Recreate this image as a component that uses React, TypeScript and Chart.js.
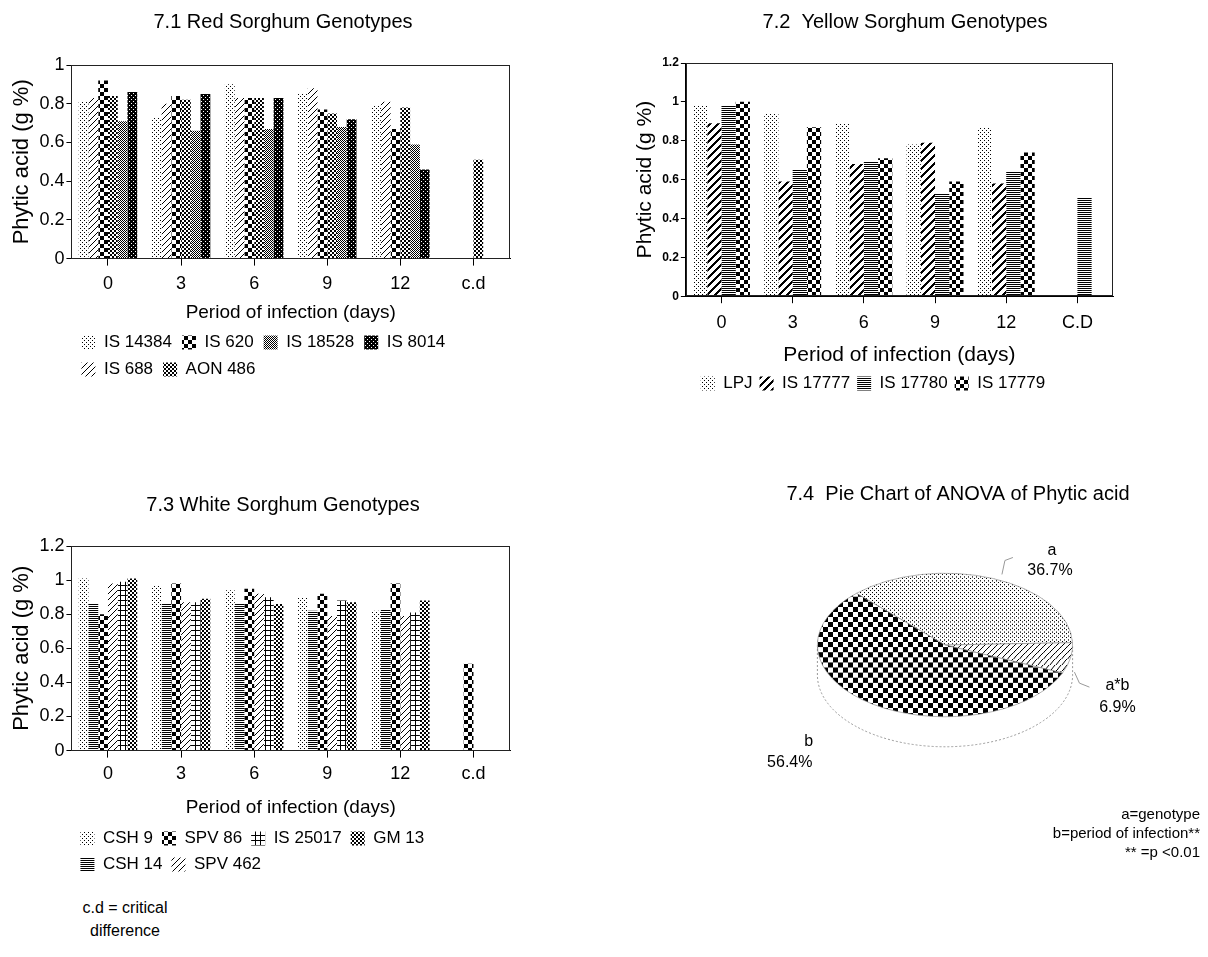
import React, { useEffect, useRef } from "react";
import { Chart, registerables } from "chart.js";

Chart.register(...registerables);

const FONT = "'Liberation Sans', Arial, Helvetica, sans-serif";

// ---------- data ----------
const periodsLower = ["0", "3", "6", "9", "12", "c.d"];
const periodsUpper = ["0", "3", "6", "9", "12", "C.D"];

// 7.1 Red sorghum genotypes (bar order)
const red_IS14384 = [0.81, 0.73, 0.9, 0.85, 0.79, null];
const red_IS688 = [0.83, 0.8, 0.83, 0.88, 0.81, null];
const red_IS620 = [0.92, 0.84, 0.83, 0.77, 0.67, null];
const red_AON486 = [0.84, 0.82, 0.83, 0.75, 0.78, 0.51];
const red_IS18528 = [0.71, 0.66, 0.67, 0.68, 0.59, null];
const red_IS8014 = [0.86, 0.85, 0.83, 0.72, 0.46, null];
const redLegendOrder = ["IS 14384", "IS 620", "IS 18528", "IS 8014", "IS 688", "AON 486"];

// 7.2 Yellow sorghum genotypes
const yel_LPJ = [0.98, 0.94, 0.89, 0.78, 0.87, null];
const yel_IS17777 = [0.89, 0.59, 0.68, 0.79, 0.58, null];
const yel_IS17780 = [0.98, 0.65, 0.69, 0.53, 0.64, 0.51];
const yel_IS17779 = [1.0, 0.87, 0.71, 0.59, 0.74, null];

// 7.3 White sorghum genotypes
const wht_CSH9 = [1.01, 0.97, 0.94, 0.9, 0.82, null];
const wht_CSH14 = [0.86, 0.86, 0.86, 0.82, 0.83, null];
const wht_SPV86 = [0.8, 0.98, 0.95, 0.92, 0.98, 0.51];
const wht_SPV462 = [0.98, 0.87, 0.92, 0.79, 0.79, null];
const wht_IS25017 = [0.99, 0.87, 0.9, 0.88, 0.81, null];
const wht_GM13 = [1.01, 0.89, 0.86, 0.87, 0.88, null];
const whtLegendOrder = ["CSH 9", "SPV 86", "IS 25017", "GM 13", "CSH 14", "SPV 462"];

// 7.4 ANOVA pie
const pieLabels = ["a", "a*b", "b"];
const pieValues = [36.7, 6.9, 56.4];
const footnotes = ["a=genotype", "b=period of infection**", "** =p <0.01"];

// ---------- styling helpers ----------
const PIE_SQUASH = 0.5625;
const PIE_DEPTH = 30;

function makePattern(ctx: CanvasRenderingContext2D, kind: string): CanvasPattern {
  const c = document.createElement("canvas");
  const sizes: Record<string, [number, number]> = {
    dots: [4, 4],
    hatch: [6, 6],
    thickHatch: [8, 8],
    checker: [8, 8],
    smallChecker: [4, 4],
    grey: [2, 2],
    dark: [4, 4],
    hlines: [1, 2],
    grid: [5, 5],
    pieDots: [4, 7],
    pieChecker: [10, 18],
    pieHatch: [6, 11],
  };
  const [w, h] = sizes[kind];
  c.width = w;
  c.height = h;
  const g = c.getContext("2d")!;
  g.fillStyle = "#fff";
  g.fillRect(0, 0, w, h);
  g.fillStyle = "#000";
  const px = (x: number, y: number, ww = 1, hh = 1) => g.fillRect(x, y, ww, hh);
  switch (kind) {
    case "dots":
      px(0, 0);
      px(2, 2);
      break;
    case "hatch":
      for (let i = 0; i < 6; i++) px(i, 5 - i);
      break;
    case "thickHatch":
      for (let x = 0; x < 8; x++) for (let y = 0; y < 8; y++) if ((x + y) % 8 < 3) px(x, y);
      break;
    case "checker":
      px(0, 0, 4, 4);
      px(4, 4, 4, 4);
      break;
    case "smallChecker":
      px(0, 0, 2, 2);
      px(2, 2, 2, 2);
      break;
    case "grey":
      px(0, 0);
      px(1, 1);
      break;
    case "dark":
      px(0, 0, 4, 4);
      g.fillStyle = "#fff";
      px(1, 1);
      px(3, 3);
      break;
    case "hlines":
      px(0, 0);
      break;
    case "grid":
      px(0, 0, 5, 1);
      px(0, 0, 1, 5);
      break;
    case "pieDots":
      px(0, 0, 1, 2);
      px(2, 3, 1, 2);
      break;
    case "pieChecker":
      px(0, 0, 5, 9);
      px(5, 9, 5, 9);
      break;
    case "pieHatch":
      for (let y = 0; y < 11; y++) px(Math.floor(((10 - y) * 6) / 11), y, 1, 1);
      break;
  }
  return ctx.createPattern(c, "repeat")!;
}

const boxPlugin = {
  id: "plotBox",
  afterDatasetsDraw(chart: any) {
    const { ctx, chartArea: a } = chart;
    ctx.save();
    ctx.strokeStyle = "#222";
    ctx.lineWidth = 1;
    ctx.strokeRect(Math.round(a.left) + 0.5, Math.round(a.top) + 0.5, Math.round(a.width) - 1, Math.round(a.height) - 1);
    ctx.restore();
  },
};

// heading drawn at a chosen point of the canvas (space reserved with layout padding)
const headingPlugin = {
  id: "heading",
  afterDraw(chart: any, _args: any, opts: any) {
    if (!opts || !opts.text) return;
    const { ctx } = chart;
    ctx.save();
    ctx.font = `${opts.size}px ${FONT}`;
    ctx.fillStyle = "#000";
    ctx.textAlign = "center";
    ctx.textBaseline = "middle";
    ctx.fillText(opts.text, opts.x, opts.y);
    ctx.restore();
  },
};

type Series = { label: string; data: (number | null)[]; pattern: string };

type BarOpts = {
  labels: string[];
  series: Series[];
  heading: { text: string; x: number; y: number; size: number };
  yMax: number;
  yTickFont: any;
  legendOrder?: string[];
  legendFullSize: boolean;
  legendAlign: "start" | "center";
  legendPadding: number;
  legendFontSize: number;
  layoutPad: { left: number; right: number; top: number; bottom: number };
  yTitleSize: number;
  xTickSize: number;
  xTickPad: number;
  xTitleSize: number;
  xTitlePad: { top: number; bottom: number };
};

function barConfig(ctx: CanvasRenderingContext2D, o: BarOpts): any {
  return {
    type: "bar",
    data: {
      labels: o.labels,
      datasets: o.series.map((s) => ({
        label: s.label,
        data: s.data,
        backgroundColor: makePattern(ctx, s.pattern),
        borderWidth: 0,
        categoryPercentage: 0.8,
        barPercentage: 1.0,
      })),
    },
    options: {
      animation: false,
      responsive: true,
      maintainAspectRatio: false,
      layout: { padding: o.layoutPad },
      scales: {
        x: {
          grid: { display: true, drawOnChartArea: false, offset: false, tickLength: 7, color: "#000" },
          border: { display: true, color: "#000" },
          ticks: { color: "#000", font: { family: FONT, size: o.xTickSize }, padding: o.xTickPad },
          title: {
            display: true,
            text: "Period of infection (days)",
            color: "#000",
            font: { family: FONT, size: o.xTitleSize },
            padding: o.xTitlePad,
          },
        },
        y: {
          min: 0,
          max: o.yMax,
          grid: { display: true, drawOnChartArea: false, tickLength: 5, color: "#000" },
          border: { display: true, color: "#000" },
          ticks: {
            stepSize: 0.2,
            color: "#000",
            font: o.yTickFont,
            padding: 2,
            callback: (v: any) => String(Math.round(Number(v) * 10) / 10),
          },
          title: {
            display: true,
            text: "Phytic acid (g %)",
            color: "#000",
            font: { family: FONT, size: o.yTitleSize },
            padding: { top: 0, bottom: 2 },
          },
        },
      },
      plugins: {
        tooltip: { enabled: false },
        title: { display: false },
        heading: o.heading,
        legend: {
          position: "bottom",
          fullSize: o.legendFullSize,
          align: o.legendAlign,
          labels: {
            color: "#000",
            font: { family: FONT, size: o.legendFontSize },
            boxWidth: 14,
            boxHeight: 14,
            padding: o.legendPadding,
            sort: o.legendOrder
              ? (a: any, b: any) => o.legendOrder!.indexOf(a.text) - o.legendOrder!.indexOf(b.text)
              : undefined,
          },
        },
      },
    },
    plugins: [boxPlugin, headingPlugin],
  };
}

// pie label offsets from the slice's outer edge point (px)
const pieLabelOffsets: [number, number][][] = [
  [[59, -28], [57, -8]],
  [[47, 27], [47, 49]],
  [[-64, 37], [-83, 58]],
];
const pieLeaders: [number, number][][] = [
  [[9, -4], [12, -18], [20, -21]],
  [[4, 14], [9, 25], [19, 29]],
  [],
];

const pieShapePlugin = {
  id: "pieShape",
  beforeDatasetsDraw(chart: any) {
    const { ctx } = chart;
    const arc = chart.getDatasetMeta(0).data[0];
    const { x, y, outerRadius: r } = arc;
    const ry = r * PIE_SQUASH;
    ctx.save();
    ctx.fillStyle = "#fff";
    ctx.strokeStyle = "#999";
    ctx.lineWidth = 1;
    ctx.setLineDash([2, 2]);
    ctx.beginPath();
    ctx.moveTo(x - r, y);
    ctx.lineTo(x - r, y + PIE_DEPTH);
    ctx.ellipse(x, y + PIE_DEPTH, r, ry, 0, Math.PI, 0, true);
    ctx.lineTo(x + r, y);
    ctx.closePath();
    ctx.fill();
    ctx.stroke();
    ctx.restore();
    ctx.save();
    ctx.translate(x, y);
    ctx.scale(1, PIE_SQUASH);
    ctx.translate(-x, -y);
  },
  afterDatasetsDraw(chart: any) {
    chart.ctx.restore();
  },
  afterDraw(chart: any) {
    const { ctx } = chart;
    const meta = chart.getDatasetMeta(0);
    ctx.save();
    ctx.font = `16px ${FONT}`;
    ctx.fillStyle = "#000";
    ctx.textAlign = "center";
    ctx.textBaseline = "middle";
    meta.data.forEach((el: any, i: number) => {
      const { x, y, startAngle, endAngle, outerRadius: r } = el;
      const m = (startAngle + endAngle) / 2;
      const ex = x + r * Math.cos(m);
      const ey = y + r * PIE_SQUASH * Math.sin(m);
      const lines = [pieLabels[i], `${pieValues[i].toFixed(1)}%`];
      lines.forEach((t, j) => {
        const [dx, dy] = pieLabelOffsets[i][j];
        ctx.fillText(t, ex + dx, ey + dy);
      });
      const pts = pieLeaders[i];
      if (pts.length) {
        ctx.save();
        ctx.strokeStyle = "#999";
        ctx.lineWidth = 1;
        ctx.beginPath();
        pts.forEach(([dx, dy], k) => (k ? ctx.lineTo(ex + dx, ey + dy) : ctx.moveTo(ex + dx, ey + dy)));
        ctx.stroke();
        ctx.restore();
      }
    });
    ctx.font = `15px ${FONT}`;
    ctx.textAlign = "right";
    footnotes.forEach((t, j) => ctx.fillText(t, chart.width - 8, 355 + j * 19));
    ctx.restore();
  },
};

function pieConfig(ctx: CanvasRenderingContext2D): any {
  return {
    type: "pie",
    data: {
      labels: pieLabels,
      datasets: [
        {
          data: pieValues,
          backgroundColor: [makePattern(ctx, "pieDots"), makePattern(ctx, "pieHatch"), makePattern(ctx, "pieChecker")],
          borderColor: "#888",
          borderWidth: 0.8,
        },
      ],
    },
    options: {
      animation: false,
      responsive: true,
      maintainAspectRatio: false,
      rotation: 316,
      layout: { padding: { left: 109, right: 135, top: 57, bottom: 184 } },
      plugins: {
        legend: { display: false },
        tooltip: { enabled: false },
        title: { display: false },
        heading: { text: "7.4  Pie Chart of ANOVA of Phytic acid", x: 250, y: 34, size: 20 },
      },
    },
    plugins: [pieShapePlugin, headingPlugin],
  };
}

function ChartBox(props: { left: number; top: number; width: number; height: number; build: (ctx: CanvasRenderingContext2D) => any }) {
  const ref = useRef<HTMLCanvasElement>(null);
  useEffect(() => {
    const canvas = ref.current!;
    const ctx = canvas.getContext("2d")!;
    const chart = new Chart(ctx, props.build(ctx));
    return () => chart.destroy();
  }, []);
  return (
    <div style={{ position: "absolute", left: props.left, top: props.top, width: props.width, height: props.height }}>
      <canvas ref={ref} />
    </div>
  );
}

export default function App() {
  const bigTick = { family: FONT, size: 18 };
  return (
    <div style={{ position: "absolute", left: 0, top: 0, width: 1208, height: 957, background: "#fff", fontFamily: FONT }}>
      <ChartBox
        left={0}
        top={0}
        width={560}
        height={394}
        build={(ctx) =>
          barConfig(ctx, {
            labels: periodsLower,
            series: [
              { label: "IS 14384", data: red_IS14384, pattern: "dots" },
              { label: "IS 688", data: red_IS688, pattern: "hatch" },
              { label: "IS 620", data: red_IS620, pattern: "checker" },
              { label: "AON 486", data: red_AON486, pattern: "smallChecker" },
              { label: "IS 18528", data: red_IS18528, pattern: "grey" },
              { label: "IS 8014", data: red_IS8014, pattern: "dark" },
            ],
            heading: { text: "7.1 Red Sorghum Genotypes", x: 283, y: 22, size: 20 },
            yMax: 1,
            yTickFont: bigTick,
            legendOrder: redLegendOrder,
            legendFullSize: false,
            legendAlign: "start",
            legendPadding: 10,
            legendFontSize: 17,
            layoutPad: { left: 9, right: 50, top: 65, bottom: 6 },
            yTitleSize: 22,
            xTickSize: 18,
            xTickPad: 8,
            xTitleSize: 19,
            xTitlePad: { top: -2, bottom: 0 },
          })
        }
      />
      <ChartBox
        left={600}
        top={0}
        width={608}
        height={404}
        build={(ctx) =>
          barConfig(ctx, {
            labels: periodsUpper,
            series: [
              { label: "LPJ", data: yel_LPJ, pattern: "dots" },
              { label: "IS 17777", data: yel_IS17777, pattern: "thickHatch" },
              { label: "IS 17780", data: yel_IS17780, pattern: "hlines" },
              { label: "IS 17779", data: yel_IS17779, pattern: "checker" },
            ],
            heading: { text: "7.2  Yellow Sorghum Genotypes", x: 305, y: 22, size: 20 },
            yMax: 1.2,
            yTickFont: { family: FONT, size: 12, weight: "bold" },
            legendFullSize: true,
            legendAlign: "center",
            legendPadding: 7,
            legendFontSize: 17,
            layoutPad: { left: 33, right: 95, top: 63, bottom: 2 },
            yTitleSize: 21,
            xTickSize: 18,
            xTickPad: 9,
            xTitleSize: 21,
            xTitlePad: { top: 0, bottom: 0 },
          })
        }
      />
      <ChartBox
        left={0}
        top={480}
        width={560}
        height={409}
        build={(ctx) =>
          barConfig(ctx, {
            labels: periodsLower,
            series: [
              { label: "CSH 9", data: wht_CSH9, pattern: "dots" },
              { label: "CSH 14", data: wht_CSH14, pattern: "hlines" },
              { label: "SPV 86", data: wht_SPV86, pattern: "checker" },
              { label: "SPV 462", data: wht_SPV462, pattern: "hatch" },
              { label: "IS 25017", data: wht_IS25017, pattern: "grid" },
              { label: "GM 13", data: wht_GM13, pattern: "smallChecker" },
            ],
            heading: { text: "7.3 White Sorghum Genotypes", x: 283, y: 25, size: 20 },
            yMax: 1.2,
            yTickFont: bigTick,
            legendOrder: whtLegendOrder,
            legendFullSize: false,
            legendAlign: "start",
            legendPadding: 9,
            legendFontSize: 17,
            layoutPad: { left: 9, right: 50, top: 66, bottom: 6 },
            yTitleSize: 22,
            xTickSize: 18,
            xTickPad: 6,
            xTitleSize: 19,
            xTitlePad: { top: 5, bottom: 2 },
          })
        }
      />
      <ChartBox left={708} top={460} width={500} height={497} build={(ctx) => pieConfig(ctx)} />
      <div
        style={{
          position: "absolute",
          left: 55,
          top: 896,
          width: 140,
          textAlign: "center",
          fontSize: 16,
          lineHeight: "23px",
          color: "#000",
        }}
      >
        c.d = critical
        <br />
        difference
      </div>
    </div>
  );
}
